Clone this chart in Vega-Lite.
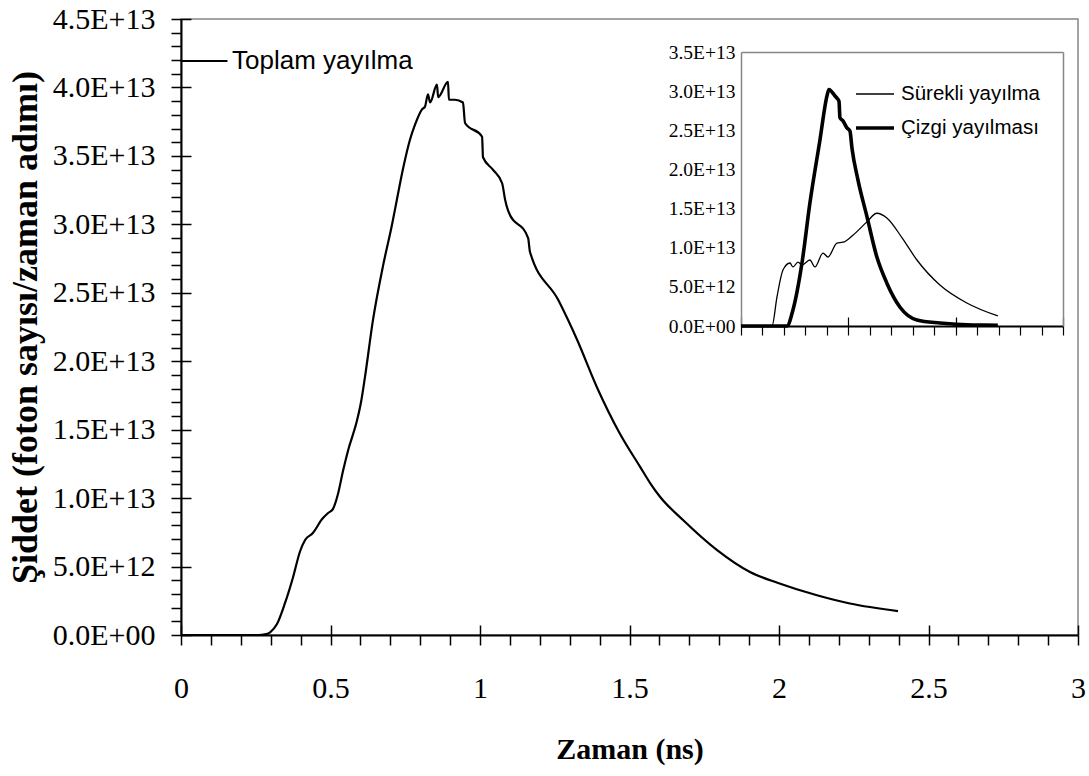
{
  "$schema": "https://vega.github.io/schema/vega-lite/v6.json",
  "width": 897,
  "height": 616,
  "autosize": {"type": "none"},
  "padding": {"left": 181, "top": 19, "right": 11, "bottom": 141},
  "background": "white",
  "config": {
    "view": {"stroke": "#868686", "strokeWidth": 1.5},
    "axis": {
      "labelFont": "Liberation Serif",
      "labelFontSize": 30,
      "labelColor": "black",
      "titleFont": "Liberation Serif",
      "titleFontWeight": "bold",
      "titleColor": "black",
      "domainColor": "black",
      "tickColor": "black",
      "grid": false,
      "labelFlush": false,
      "labelOverlap": false
    }
  },
  "datasets": {
    "main": [
      {"t": 0, "I": 0}, {"t": 0.1, "I": 0}, {"t": 0.2, "I": 0}, {"t": 0.26, "I": 0},
      {"t": 0.28, "I": 4e10}, {"t": 0.298, "I": 2e11}, {"t": 0.321, "I": 8e11}, {"t": 0.348, "I": 2.34e12},
      {"t": 0.375, "I": 4.24e12}, {"t": 0.398, "I": 6.1e12}, {"t": 0.415, "I": 6.94e12},
      {"t": 0.441, "I": 7.45e12}, {"t": 0.472, "I": 8.47e12}, {"t": 0.492, "I": 8.91e12},
      {"t": 0.508, "I": 9.2e12}, {"t": 0.525, "I": 1.03e13}, {"t": 0.542, "I": 1.2e13},
      {"t": 0.559, "I": 1.35e13}, {"t": 0.589, "I": 1.57e13}, {"t": 0.602, "I": 1.7e13},
      {"t": 0.615, "I": 1.88e13}, {"t": 0.642, "I": 2.3e13}, {"t": 0.676, "I": 2.7e13},
      {"t": 0.706, "I": 3.0e13}, {"t": 0.722, "I": 3.18e13}, {"t": 0.742, "I": 3.4e13},
      {"t": 0.766, "I": 3.62e13}, {"t": 0.783, "I": 3.73e13}, {"t": 0.806, "I": 3.84e13},
      {"t": 0.816, "I": 3.86e13}, {"t": 0.826, "I": 3.95e13}, {"t": 0.833, "I": 3.89e13},
      {"t": 0.856, "I": 4.02e13}, {"t": 0.86, "I": 3.93e13}, {"t": 0.893, "I": 4.04e13},
      {"t": 0.896, "I": 3.91e13}, {"t": 0.916, "I": 3.91e13}, {"t": 0.943, "I": 3.89e13},
      {"t": 0.95, "I": 3.74e13}, {"t": 1.007, "I": 3.64e13}, {"t": 1.01, "I": 3.49e13},
      {"t": 1.043, "I": 3.4e13}, {"t": 1.074, "I": 3.3e13}, {"t": 1.084, "I": 3.18e13},
      {"t": 1.094, "I": 3.1e13}, {"t": 1.161, "I": 2.9e13}, {"t": 1.167, "I": 2.8e13},
      {"t": 1.261, "I": 2.45e13}, {"t": 1.324, "I": 2.16e13}, {"t": 1.391, "I": 1.81e13},
      {"t": 1.468, "I": 1.47e13}, {"t": 1.535, "I": 1.23e13}, {"t": 1.569, "I": 1.11e13},
      {"t": 1.602, "I": 1.01e13}, {"t": 1.679, "I": 8.4e12}, {"t": 1.793, "I": 6.2e12},
      {"t": 1.903, "I": 4.6e12}, {"t": 1.997, "I": 3.8e12}, {"t": 2.127, "I": 2.9e12},
      {"t": 2.237, "I": 2.3e12}, {"t": 2.398, "I": 1.75e12}
    ],
    "inset": [
      {"seri": "Sürekli yayılma", "t": 0, "I": 0},
      {"seri": "Sürekli yayılma", "t": 0.289, "I": 0},
      {"seri": "Sürekli yayılma", "t": 0.335, "I": 3.7e12},
      {"seri": "Sürekli yayılma", "t": 0.391, "I": 7.15e12},
      {"seri": "Sürekli yayılma", "t": 0.456, "I": 8.05e12},
      {"seri": "Sürekli yayılma", "t": 0.484, "I": 7.54e12},
      {"seri": "Sürekli yayılma", "t": 0.531, "I": 8.17e12},
      {"seri": "Sürekli yayılma", "t": 0.568, "I": 7.79e12},
      {"seri": "Sürekli yayılma", "t": 0.642, "I": 8.43e12},
      {"seri": "Sürekli yayılma", "t": 0.689, "I": 7.54e12},
      {"seri": "Sürekli yayılma", "t": 0.764, "I": 9.32e12},
      {"seri": "Sürekli yayılma", "t": 0.81, "I": 8.81e12},
      {"seri": "Sürekli yayılma", "t": 0.894, "I": 1.06e13},
      {"seri": "Sürekli yayılma", "t": 0.95, "I": 1.07e13},
      {"seri": "Sürekli yayılma", "t": 1.043, "I": 1.16e13},
      {"seri": "Sürekli yayılma", "t": 1.173, "I": 1.33e13},
      {"seri": "Sürekli yayılma", "t": 1.266, "I": 1.44e13},
      {"seri": "Sürekli yayılma", "t": 1.359, "I": 1.38e13},
      {"seri": "Sürekli yayılma", "t": 1.499, "I": 1.13e13},
      {"seri": "Sürekli yayılma", "t": 1.639, "I": 8.43e12},
      {"seri": "Sürekli yayılma", "t": 1.853, "I": 5.24e12},
      {"seri": "Sürekli yayılma", "t": 2.104, "I": 2.94e12},
      {"seri": "Sürekli yayılma", "t": 2.393, "I": 1.28e12},
      {"seri": "Çizgi yayılması", "t": 0, "I": 0},
      {"seri": "Çizgi yayılması", "t": 0.428, "I": 0},
      {"seri": "Çizgi yayılması", "t": 0.484, "I": 2.04e12},
      {"seri": "Çizgi yayılması", "t": 0.568, "I": 8.04e12},
      {"seri": "Çizgi yayılması", "t": 0.642, "I": 1.57e13},
      {"seri": "Çizgi yayılması", "t": 0.736, "I": 2.38e13},
      {"seri": "Çizgi yayılması", "t": 0.801, "I": 2.94e13},
      {"seri": "Çizgi yayılması", "t": 0.819, "I": 3.02e13},
      {"seri": "Çizgi yayılması", "t": 0.847, "I": 2.99e13},
      {"seri": "Çizgi yayılması", "t": 0.875, "I": 2.94e13},
      {"seri": "Çizgi yayılması", "t": 0.894, "I": 2.91e13},
      {"seri": "Çizgi yayılması", "t": 0.913, "I": 2.87e13},
      {"seri": "Çizgi yayılması", "t": 0.922, "I": 2.66e13},
      {"seri": "Çizgi yayılması", "t": 0.95, "I": 2.62e13},
      {"seri": "Çizgi yayılması", "t": 0.987, "I": 2.53e13},
      {"seri": "Çizgi yayılması", "t": 1.015, "I": 2.49e13},
      {"seri": "Çizgi yayılması", "t": 1.034, "I": 2.27e13},
      {"seri": "Çizgi yayılması", "t": 1.089, "I": 1.87e13},
      {"seri": "Çizgi yayılması", "t": 1.173, "I": 1.4e13},
      {"seri": "Çizgi yayılması", "t": 1.266, "I": 8.8e12},
      {"seri": "Çizgi yayılması", "t": 1.359, "I": 5.47e12},
      {"seri": "Çizgi yayılması", "t": 1.48, "I": 2.43e12},
      {"seri": "Çizgi yayılması", "t": 1.639, "I": 7.7e11},
      {"seri": "Çizgi yayılması", "t": 1.853, "I": 3.8e11},
      {"seri": "Çizgi yayılması", "t": 2.16, "I": 1.3e11},
      {"seri": "Çizgi yayılması", "t": 2.393, "I": 1e11}
    ]
  },
  "layer": [
    {
      "data": {"name": "main"},
      "layer": [
        {
          "mark": {"type": "line", "strokeWidth": 2.2, "interpolate": "monotone"},
          "encoding": {
            "x": {
              "field": "t", "type": "quantitative",
              "scale": {"domain": [0, 3], "nice": false, "zero": false},
              "axis": {
                "orient": "bottom",
                "values": [0,0.1,0.2,0.3,0.4,0.5,0.6,0.7,0.8,0.9,1,1.1,1.2,1.3,1.4,1.5,1.6,1.7,1.8,1.9,2,2.1,2.2,2.3,2.4,2.5,2.6,2.7,2.8,2.9,3],
                "labelExpr": "round(datum.value*10) % 5 == 0 ? format(datum.value, '~g') : ''",
                "tickSize": 10, "tickWidth": 1.5, "domainWidth": 2,
                "labelPadding": 28,
                "title": "Zaman (ns)", "titleFontSize": 30, "titlePadding": 31
              }
            },
            "y": {
              "field": "I", "type": "quantitative",
              "scale": {"domain": [0, 45000000000000], "nice": false},
              "axis": {
                "orient": "left",
                "values": [0,1e12,2e12,3e12,4e12,5e12,6e12,7e12,8e12,9e12,1e13,1.1e13,1.2e13,1.3e13,1.4e13,1.5e13,1.6e13,1.7e13,1.8e13,1.9e13,2e13,2.1e13,2.2e13,2.3e13,2.4e13,2.5e13,2.6e13,2.7e13,2.8e13,2.9e13,3e13,3.1e13,3.2e13,3.3e13,3.4e13,3.5e13,3.6e13,3.7e13,3.8e13,3.9e13,4e13,4.1e13,4.2e13,4.3e13,4.4e13,4.5e13],
                "labelExpr": "datum.value % 5e12 == 0 ? (datum.value == 0 ? '0.0E+00' : upper(format(datum.value, '.1e'))) : ''",
                "tickSize": 10, "tickWidth": 1.5, "domainWidth": 2,
                "labelPadding": 16,
                "title": "Şiddet (foton sayısı/zaman adımı)", "titleFontSize": 36, "titlePadding": 8
              }
            },
            "color": {
              "datum": "Toplam yayılma", "type": "nominal",
              "scale": {"range": ["black"]},
              "legend": {
                "title": null, "orient": "none", "legendX": -2, "legendY": 17, "padding": 0,
                "symbolType": "stroke", "symbolSize": 2209, "symbolStrokeWidth": 2.2, "symbolStrokeColor": "black",
                "labelFont": "Liberation Sans", "labelFontSize": 26, "labelColor": "black", "labelOffset": 3, "labelLimit": 400
              }
            }
          }
        },
        {
          "mark": {"type": "line", "opacity": 0},
          "encoding": {
            "x": {
              "field": "t", "type": "quantitative",
              "scale": {"domain": [0, 3], "nice": false, "zero": false},
              "axis": {"orient": "bottom", "offset": -10, "values": [0,0.5,1,1.5,2,2.5,3], "tickSize": 10, "tickWidth": 1.5, "domain": false, "labels": false, "title": null}
            },
            "y": {
              "field": "I", "type": "quantitative",
              "scale": {"domain": [0, 45000000000000], "nice": false},
              "axis": {"orient": "left", "offset": -10, "values": [0,5e12,1e13,1.5e13,2e13,2.5e13,3e13,3.5e13,4e13,4.5e13], "tickSize": 10, "tickWidth": 1.5, "domain": false, "labels": false, "title": null}
            }
          }
        }
      ],
      "resolve": {"axis": {"x": "independent", "y": "independent"}}
    },
    {
      "data": {"name": "inset"},
      "layer": [
        {
          "mark": {"type": "line", "color": "black", "interpolate": "monotone"},
          "encoding": {
            "x": {
              "field": "t", "type": "quantitative",
              "scale": {"domain": [0, 3], "nice": false, "zero": false, "range": [560, 882]},
              "axis": {"orient": "bottom", "offset": -309, "values": [0,0.2,0.4,0.6,0.8,1,1.2,1.4,1.6,1.8,2,2.2,2.4,2.6,2.8,3], "tickSize": 9, "tickWidth": 1.2, "domainWidth": 2, "labels": false, "title": null}
            },
            "y": {
              "field": "I", "type": "quantitative",
              "scale": {"domain": [0, 35000000000000], "nice": false, "range": [307, 33]},
              "axis": {
                "orient": "left", "offset": -560,
                "values": [0,5e12,1e13,1.5e13,2e13,2.5e13,3e13,3.5e13],
                "labelExpr": "datum.value == 0 ? '0.0E+00' : upper(format(datum.value, '.1e'))",
                "ticks": false, "labelPadding": 6, "labelFontSize": 19.5,
                "domainColor": "#868686", "domainWidth": 1.5, "title": null
              }
            },
            "strokeWidth": {
              "field": "seri", "type": "ordinal",
              "scale": {"type": "ordinal", "domain": ["Sürekli yayılma", "Çizgi yayılması"], "range": [1.3, 3.6]},
              "legend": {
                "title": null, "orient": "none", "legendX": 673, "legendY": 55, "padding": 0,
                "symbolType": "stroke", "symbolSize": 1444, "symbolStrokeColor": "black",
                "labelFont": "Liberation Sans", "labelFontSize": 20.5, "labelColor": "black", "labelOffset": 5, "labelLimit": 300
              }
            }
          }
        },
        {
          "mark": {"type": "line", "opacity": 0},
          "encoding": {
            "x": {
              "field": "t", "type": "quantitative",
              "scale": {"domain": [0, 3], "nice": false, "zero": false, "range": [560, 882]},
              "axis": {"orient": "bottom", "offset": -318, "values": [0,1,2,3], "tickSize": 9, "tickWidth": 1.2, "domain": false, "labels": false, "title": null}
            },
            "y": {
              "field": "I", "type": "quantitative",
              "scale": {"domain": [0, 35000000000000], "nice": false, "range": [307, 33]},
              "axis": {"orient": "right", "offset": -15, "ticks": false, "labels": false, "domainColor": "#868686", "domainWidth": 1.5, "title": null}
            }
          }
        },
        {
          "mark": {"type": "line", "opacity": 0},
          "encoding": {
            "x": {
              "field": "t", "type": "quantitative",
              "scale": {"domain": [0, 3], "nice": false, "zero": false, "range": [560, 882]},
              "axis": {"orient": "top", "offset": -33, "ticks": false, "labels": false, "domainColor": "#868686", "domainWidth": 1.5, "title": null}
            },
            "y": {
              "field": "I", "type": "quantitative",
              "scale": {"domain": [0, 35000000000000], "nice": false, "range": [307, 33]},
              "axis": null
            }
          }
        }
      ],
      "resolve": {"axis": {"x": "independent", "y": "independent"}}
    }
  ],
  "resolve": {"scale": {"x": "independent", "y": "independent"}, "axis": {"x": "independent", "y": "independent"}}
}
